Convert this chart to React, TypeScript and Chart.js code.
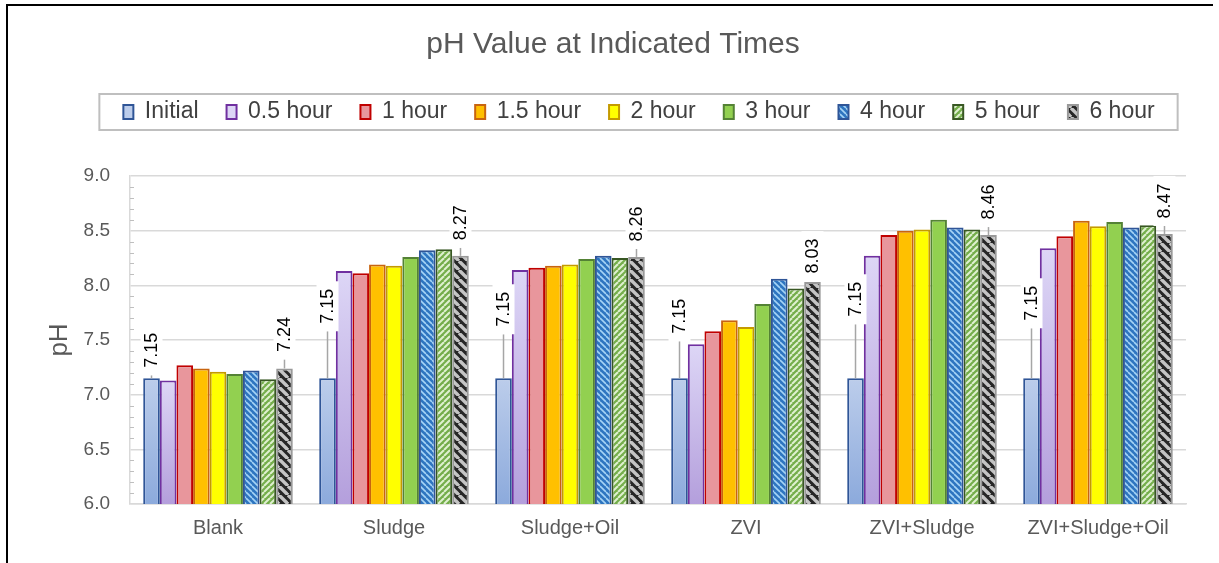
import React, { useEffect, useRef } from "react";
import { Chart, registerables } from "chart.js";

Chart.register(...registerables);

const categories = ["Blank", "Sludge", "Sludge+Oil", "ZVI", "ZVI+Sludge", "ZVI+Sludge+Oil"];
const seriesNames = ["Initial", "0.5 hour", "1 hour", "1.5 hour", "2 hour", "3 hour", "4 hour", "5 hour", "6 hour"];
const initialValues = [7.15, 7.15, 7.15, 7.15, 7.15, 7.15];
const halfHourValues = [7.13, 8.13, 8.14, 7.46, 8.27, 8.34];
const oneHourValues = [7.27, 8.11, 8.16, 7.58, 8.46, 8.45];
const oneHalfHourValues = [7.24, 8.19, 8.18, 7.68, 8.5, 8.59];
const twoHourValues = [7.21, 8.18, 8.19, 7.62, 8.51, 8.54];
const threeHourValues = [7.19, 8.26, 8.24, 7.83, 8.6, 8.58];
const fourHourValues = [7.22, 8.32, 8.27, 8.06, 8.53, 8.53];
const fiveHourValues = [7.14, 8.33, 8.25, 7.97, 8.51, 8.55];
const sixHourValues = [7.24, 8.27, 8.26, 8.03, 8.46, 8.47];
const yTickValues = [6.0, 6.5, 7.0, 7.5, 8.0, 8.5, 9.0];

// label placement (pixels above the bar top to the label centre)
const initialLabelLift = [28, 72, 69, 62, 79, 75];
const finalLabelLift = [34, 33, 33, 26, 33, 33];

const FONT = "'Liberation Sans', Arial, sans-serif";

function makeStripes(ctx: CanvasRenderingContext2D, base: string, stripe: string, size: number, width: number, down: boolean) {
  const c = document.createElement("canvas");
  c.width = size;
  c.height = size;
  const g = c.getContext("2d")!;
  g.fillStyle = base;
  g.fillRect(0, 0, size, size);
  g.strokeStyle = stripe;
  g.lineWidth = width;
  for (const k of [-size, 0, size]) {
    g.beginPath();
    if (down) {
      g.moveTo(k, 0);
      g.lineTo(k + size, size);
    } else {
      g.moveTo(k, size);
      g.lineTo(k + size, 0);
    }
    g.stroke();
  }
  return ctx.createPattern(c, "repeat")!;
}

const gradientFill = (top: string, bottom: string) => (c: any) => {
  const chart = c.chart;
  const ys = chart.scales && chart.scales.y;
  if (c.type !== "data" || !ys || !chart.chartArea || typeof c.raw !== "number") return top;
  const yt = ys.getPixelForValue(c.raw);
  const yb = ys.getPixelForValue(6);
  const g = chart.ctx.createLinearGradient(0, yt, 0, yb);
  g.addColorStop(0, top);
  g.addColorStop(1, bottom);
  return g;
};

const decorPlugin = {
  id: "decor",
  afterLayout(chart: any) {
    if (chart.legend) chart.legend.left += 52;
  },
  beforeDraw(chart: any) {
    const ctx = chart.ctx;
    ctx.save();
    ctx.fillStyle = "#000";
    ctx.fillRect(6, 4, 1207, 2);
    ctx.fillRect(6, 4, 2, 563);
    ctx.restore();
  },
  beforeDatasetsDraw(chart: any) {
    const ctx = chart.ctx;
    const ys = chart.scales.y;
    const left = chart.chartArea.left;
    ctx.save();
    ctx.strokeStyle = "#bfbfbf";
    ctx.lineWidth = 1;
    for (let i = 0; i <= 30; i++) {
      if (i % 5 === 0) continue;
      const y = Math.round(ys.getPixelForValue(6 + i / 10)) + 0.5;
      ctx.beginPath();
      ctx.moveTo(left, y);
      ctx.lineTo(left + 4, y);
      ctx.stroke();
    }
    ctx.restore();
  },
  afterDatasetsDraw(chart: any) {
    const ctx = chart.ctx;
    const drawLabel = (x: number, barTop: number, cy: number, text: string) => {
      const w = 22;
      const h = 50;
      if (barTop - (cy + h / 2) > 2) {
        ctx.strokeStyle = "#a6a6a6";
        ctx.lineWidth = 1.5;
        ctx.beginPath();
        ctx.moveTo(x, barTop);
        ctx.lineTo(x, cy + h / 2);
        ctx.stroke();
      }
      ctx.fillStyle = "#ffffff";
      ctx.fillRect(x - w / 2, cy - h / 2, w, h);
      ctx.save();
      ctx.translate(x, cy);
      ctx.rotate(-Math.PI / 2);
      ctx.fillStyle = "#000";
      ctx.font = `18px ${FONT}`;
      ctx.textAlign = "center";
      ctx.textBaseline = "middle";
      ctx.fillText(text, 0, 1);
      ctx.restore();
    };
    ctx.save();
    const m0 = chart.getDatasetMeta(0);
    const m8 = chart.getDatasetMeta(8);
    categories.forEach((_, i) => {
      const b0 = m0.data[i];
      drawLabel(b0.x, b0.y, b0.y - initialLabelLift[i], initialValues[i].toFixed(2));
      const b8 = m8.data[i];
      drawLabel(b8.x, b8.y, b8.y - finalLabelLift[i], sixHourValues[i].toFixed(2));
    });
    ctx.restore();
  },
  afterDraw(chart: any) {
    const lg = chart.legend;
    if (!lg || !lg.legendHitBoxes || !lg.legendHitBoxes.length) return;
    const hb = lg.legendHitBoxes;
    const l = hb[0].left - 24;
    const last = hb[hb.length - 1];
    const r = last.left + last.width + 23;
    const cy = hb[0].top + hb[0].height / 2;
    const ctx = chart.ctx;
    ctx.save();
    ctx.strokeStyle = "#bfbfbf";
    ctx.lineWidth = 2;
    ctx.strokeRect(l, cy - 18, r - l, 36);
    ctx.restore();
  },
};

export default function App() {
  const ref = useRef<HTMLCanvasElement>(null);
  useEffect(() => {
    const canvas = ref.current!;
    const ctx = canvas.getContext("2d")!;
    Chart.defaults.font.family = FONT;

    const fourPattern = makeStripes(ctx, "#2e75c0", "#a6d4f5", 6, 1.6, true);
    const fivePattern = makeStripes(ctx, "#74ad4a", "#dff0d0", 6, 2.0, false);
    const sixPattern = makeStripes(ctx, "#262626", "#c4c4c4", 9, 3.4, true);

    const values = [
      initialValues, halfHourValues, oneHourValues, oneHalfHourValues, twoHourValues,
      threeHourValues, fourHourValues, fiveHourValues, sixHourValues,
    ];
    const fills: any[] = [
      gradientFill("#bccdeb", "#8caadc"),
      gradientFill("#ddd6f6", "#b49fdc"),
      "#e8969c",
      "#ffc000",
      "#ffff00",
      "#92d050",
      fourPattern,
      fivePattern,
      sixPattern,
    ];
    const borders = ["#2f5597", "#7030a0", "#c00000", "#c8640f", "#c49a00", "#548235", "#2f5597", "#385723", "#999999"];

    const chart = new Chart(canvas, {
      type: "bar",
      data: {
        labels: categories,
        datasets: seriesNames.map((name, i) => ({
          label: name,
          data: values[i],
          backgroundColor: fills[i],
          borderColor: borders[i],
          borderWidth: 2,
          borderSkipped: false,
          categoryPercentage: 0.85,
          barPercentage: 1.0,
        })),
      },
      options: {
        responsive: false,
        animation: false,
        devicePixelRatio: 1,
        layout: { padding: { left: 7, right: 0, top: 0, bottom: 0 } },
        plugins: {
          title: {
            display: true,
            text: "pH Value at Indicated Times",
            color: "#595959",
            font: { size: 30, weight: "normal", family: FONT },
            padding: { top: 27, bottom: 9.5 },
          },
          subtitle: {
            display: true,
            text: "",
            weight: 500,
            font: { size: 1, lineHeight: 1 },
            padding: { top: 0, bottom: 41.5 },
          } as any,
          legend: {
            display: true,
            position: "top",
            labels: {
              boxWidth: 10,
              boxHeight: 14,
              padding: 28,
              color: "#404040",
              font: { size: 23, family: FONT },
            },
          },
          tooltip: { enabled: false },
        },
        scales: {
          x: {
            grid: { display: false, drawTicks: false },
            border: { display: true, color: "#d9d9d9", width: 1.5 },
            ticks: { color: "#595959", font: { size: 20, family: FONT }, padding: 12 },
            afterFit: (s: any) => {
              s.height = 59;
            },
          },
          y: {
            min: 6,
            max: 9,
            afterBuildTicks: (s: any) => {
              s.ticks = yTickValues.map((v) => ({ value: v }));
            },
            grid: { color: "#d9d9d9", lineWidth: 1.5, drawTicks: false },
            border: { display: true, color: "#d9d9d9", width: 1.5 },
            ticks: {
              color: "#595959",
              font: { size: 19, family: FONT },
              padding: 20,
              callback: (v: any) => Number(v).toFixed(1),
            },
            title: {
              display: true,
              text: "pH",
              color: "#595959",
              font: { size: 26, family: FONT },
              padding: { top: 37, bottom: 0 },
            },
            afterFit: (s: any) => {
              s.width = 123;
            },
          },
          y2: {
            position: "right",
            display: true,
            grid: { display: false, drawTicks: false },
            border: { display: false },
            ticks: { display: false },
            afterFit: (s: any) => {
              s.width = 33;
            },
          },
        },
      },
      plugins: [decorPlugin],
    });
    return () => chart.destroy();
  }, []);

  return (
    <div
      style={{
        position: "fixed",
        left: 0,
        top: 0,
        width: 1219,
        height: 563,
        background: "#fff",
        overflow: "hidden",
      }}
    >
      <canvas ref={ref} width={1219} height={563} style={{ display: "block" }} />
    </div>
  );
}
